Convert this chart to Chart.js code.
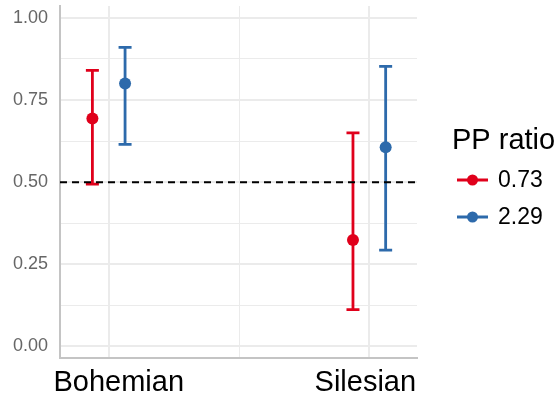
<!DOCTYPE html>
<html>
<head>
<meta charset="utf-8">
<script src="https://cdn.jsdelivr.net/npm/chart.js@4.4.1/dist/chart.umd.min.js"></script>
<style>
  html, body { margin: 0; padding: 0; background: #fff; }
  #wrap { width: 559px; height: 396px; }
</style>
</head>
<body>
<div id="wrap"><canvas id="myChart"></canvas></div>
<script>
// data
const groups = ['Bohemian', 'Silesian'];
const ratioLabels = ['0.73', '2.29'];
const est073 = [0.694, 0.324];
const low073 = [0.494, 0.112];
const high073 = [0.840, 0.650];
const est229 = [0.800, 0.606];
const low229 = [0.615, 0.293];
const high229 = [0.910, 0.852];
const yTicks = [0, 0.125, 0.25, 0.375, 0.5, 0.625, 0.75, 0.875, 1];
const refLine = 0.5;

const colors = ['#e0001b', '#2d6aab'];
const dodge = 0.0627;

let series = [
  { est: est073, low: low073, high: high073 },
  { est: est229, low: low229, high: high229 }
];

let datasets = series.map((s, k) => ({
  label: ratioLabels[k],
  data: groups.map((g, i) => ({ x: i + 1 + (k === 0 ? -dodge : dodge), y: s.est[i] })),
  backgroundColor: colors[k],
  borderColor: colors[k],
  pointRadius: 6,
  pointHoverRadius: 6,
  borderWidth: 0,
  showLine: false
}));

// error bars, under the points
const errorBars = {
  id: 'errorBars',
  beforeDatasetsDraw(chart) {
    let c = chart.ctx, x = chart.scales.x, y = chart.scales.y;
    c.save();
    c.lineWidth = 2.8;
    series.forEach((s, k) => {
      c.strokeStyle = colors[k];
      groups.forEach((g, i) => {
        let px = x.getPixelForValue(i + 1 + (k === 0 ? -dodge : dodge));
        let lo = y.getPixelForValue(s.low[i]);
        let hi = y.getPixelForValue(s.high[i]);
        c.beginPath();
        c.moveTo(px, lo); c.lineTo(px, hi);
        c.moveTo(px - 6.5, lo); c.lineTo(px + 6.5, lo);
        c.moveTo(px - 6.5, hi); c.lineTo(px + 6.5, hi);
        c.stroke();
      });
    });
    c.restore();
  },
  afterDatasetsDraw(chart) {
    let c = chart.ctx, y = chart.scales.y, a = chart.chartArea;
    // dashed line at 0.5
    c.save();
    c.strokeStyle = '#000';
    c.lineWidth = 2;
    c.setLineDash([7, 5]);
    let py = y.getPixelForValue(refLine);
    c.beginPath();
    c.moveTo(a.left, py); c.lineTo(a.right, py);
    c.stroke();
    c.restore();
  },
  afterDraw(chart) {
    let c = chart.ctx, x = chart.scales.x, a = chart.chartArea;
    c.save();
    // x labels
    c.fillStyle = '#000';
    c.font = '29px "Liberation Sans", Arial, sans-serif';
    c.textAlign = 'center';
    c.textBaseline = 'alphabetic';
    let shift = [10, -4];
    groups.forEach((g, i) => {
      c.fillText(g, x.getPixelForValue(i + 1) + shift[i], a.bottom + 33);
    });
    // legend
    c.textAlign = 'left';
    c.fillText('PP ratio', 452, 149);
    c.font = '23px "Liberation Sans", Arial, sans-serif';
    ratioLabels.forEach((lab, k) => {
      let ly = 180 + k * 37;
      c.strokeStyle = colors[k];
      c.fillStyle = colors[k];
      c.lineWidth = 3;
      c.beginPath();
      c.moveTo(457, ly); c.lineTo(488, ly);
      c.stroke();
      c.beginPath();
      c.arc(472.5, ly, 5.5, 0, Math.PI * 2);
      c.fill();
      c.fillStyle = '#000';
      c.textBaseline = 'middle';
      c.fillText(lab, 498, ly + 1);
    });
    c.restore();
  }
};

new Chart(document.getElementById('myChart'), {
  type: 'scatter',
  data: { datasets: datasets },
  options: {
    responsive: true,
    maintainAspectRatio: false,
    animation: false,
    layout: { padding: { top: 4, right: 142, left: 0, bottom: 0 } },
    plugins: { legend: { display: false }, tooltip: { enabled: false } },
    scales: {
      x: {
        type: 'linear',
        min: 0.813,
        max: 2.183,
        afterBuildTicks: (s) => { s.ticks = [{ value: 1 }, { value: 1.5 }, { value: 2 }]; },
        afterFit: (s) => { s.height = 38; s.paddingLeft = 0; s.paddingRight = 0; },
        ticks: { display: false },
        grid: {
          color: '#ebebeb',
          lineWidth: (ctx) => (ctx.tick && ctx.tick.value === 1.5 ? 1 : 2),
          drawTicks: false
        },
        border: { display: true, color: '#c4c4c4', width: 2 }
      },
      y: {
        min: -0.035,
        max: 1.036,
        afterBuildTicks: (s) => { s.ticks = yTicks.map(v => ({ value: v })); },
        afterFit: (s) => { s.width = 60; s.paddingTop = 0; s.paddingBottom = 0; },
        ticks: {
          padding: 12,
          color: '#666666',
          font: { size: 18, family: '"Liberation Sans", Arial, sans-serif' },
          callback: (v) => (Math.abs(v * 4 - Math.round(v * 4)) < 1e-6 ? v.toFixed(2) : '')
        },
        grid: {
          color: '#ebebeb',
          lineWidth: (ctx) => (ctx.tick && Math.abs(ctx.tick.value * 4 - Math.round(ctx.tick.value * 4)) < 1e-6 ? 2 : 1),
          drawTicks: false
        },
        border: { display: true, color: '#c4c4c4', width: 2 }
      }
    }
  },
  plugins: [errorBars]
});
</script>
</body>
</html>
